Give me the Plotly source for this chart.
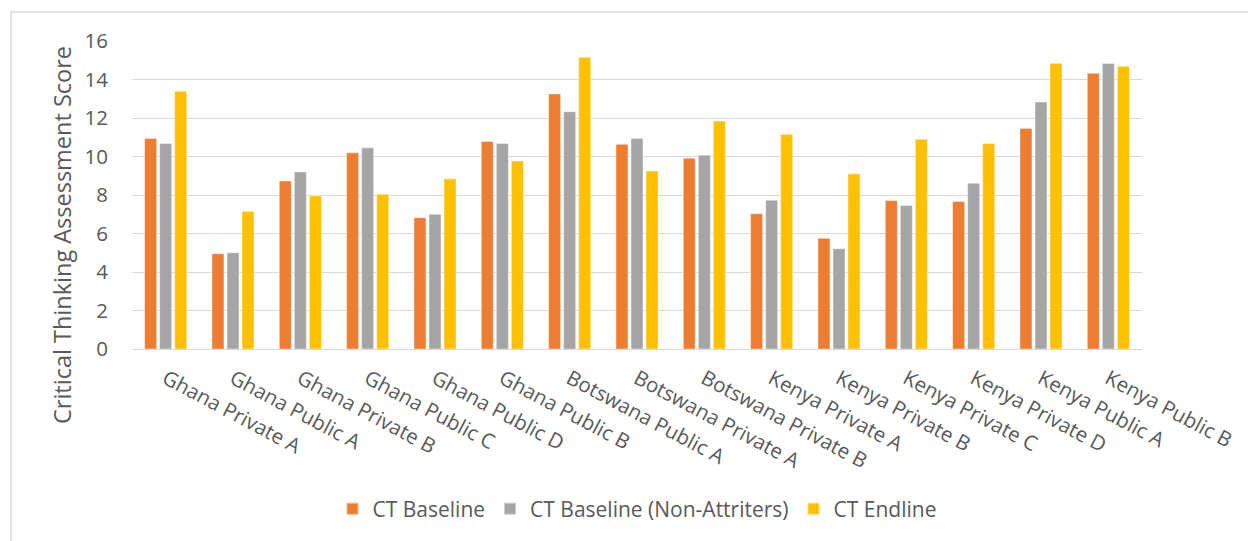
import plotly.graph_objects as go

# School groups along the x axis
schools = [
    "Ghana Private A", "Ghana Public A", "Ghana Private B", "Ghana Public C",
    "Ghana Public D", "Ghana Public B", "Botswana Public A", "Botswana Private A",
    "Botswana Private B", "Kenya Private A", "Kenya Private B", "Kenya Private C",
    "Kenya Private D", "Kenya Public A", "Kenya Public B",
]

# Mean critical thinking assessment scores
ct_baseline = [10.94, 4.95, 8.73, 10.19, 6.82, 10.78, 13.25, 10.63, 9.91,
               7.03, 5.75, 7.71, 7.66, 11.46, 14.32]
ct_baseline_non_attriters = [10.68, 5.00, 9.20, 10.45, 7.00, 10.68, 12.33, 10.94,
                             10.07, 7.73, 5.21, 7.45, 8.61, 12.83, 14.83]
ct_endline = [13.39, 7.15, 7.95, 8.04, 8.84, 9.77, 15.16, 9.25, 11.84,
              11.15, 9.10, 10.89, 10.68, 14.84, 14.69]

series = [
    ("CT Baseline", ct_baseline, "#ED7D31"),
    ("CT Baseline (Non-Attriters)", ct_baseline_non_attriters, "#A5A5A5"),
    ("CT Endline", ct_endline, "#FFC000"),
]

FONT = "Open Sans"
TEXT = "#595959"

fig = go.Figure()
for name, vals, color in series:
    fig.add_trace(go.Bar(
        x=schools, y=vals, name=name,
        marker=dict(color=color, line=dict(color="rgba(255,255,255,0.45)", width=1)),
    ))

W, H = 1248, 541
L, R, T, B = 132, 106, 41, 192
pw, ph = W - L - R, H - T - B

def px_x(x):
    return (x - L) / pw

def px_y(y):
    return (H - B - y) / ph

fig.update_layout(
    width=W, height=H,
    margin=dict(l=L, r=R, t=T, b=B),
    paper_bgcolor="white", plot_bgcolor="white",
    barmode="group", bargap=0.33, bargroupgap=0.2,
    font=dict(family=FONT, color=TEXT, size=20),
    showlegend=True,
    legend=dict(
        orientation="h", x=0.5, xanchor="center",
        y=px_y(509), yanchor="middle",
        font=dict(size=21, color=TEXT, family=FONT),
        itemsizing="constant", traceorder="normal",
    ),
    xaxis=dict(
        tickangle=28, tickfont=dict(size=20.5, color=TEXT, family=FONT),
        showgrid=False, showline=False, ticks="", ticklabelstandoff=13,
    ),
    yaxis=dict(
        range=[0, 16], dtick=2, tickfont=dict(size=20.5, color=TEXT, family=FONT),
        showgrid=True, gridcolor="#D9D9D9", gridwidth=1.3,
        zeroline=True, zerolinecolor="#D9D9D9", zerolinewidth=1.3,
        showline=False, ticks="", ticklabelstandoff=23,
    ),
    annotations=[dict(
        text="Critical Thinking Assessment Score",
        xref="paper", yref="paper", x=px_x(62), y=px_y(235),
        xanchor="center", yanchor="middle", textangle=-90, showarrow=False,
        font=dict(size=23.5, color=TEXT, family=FONT),
    )],
    shapes=[dict(
        type="rect", xref="paper", yref="paper",
        x0=px_x(11), x1=px_x(1260), y0=px_y(560), y1=px_y(12),
        line=dict(color="#D9D9D9", width=1.5), fillcolor="rgba(0,0,0,0)", layer="below",
    )],
)

fig.write_html("out.html")
